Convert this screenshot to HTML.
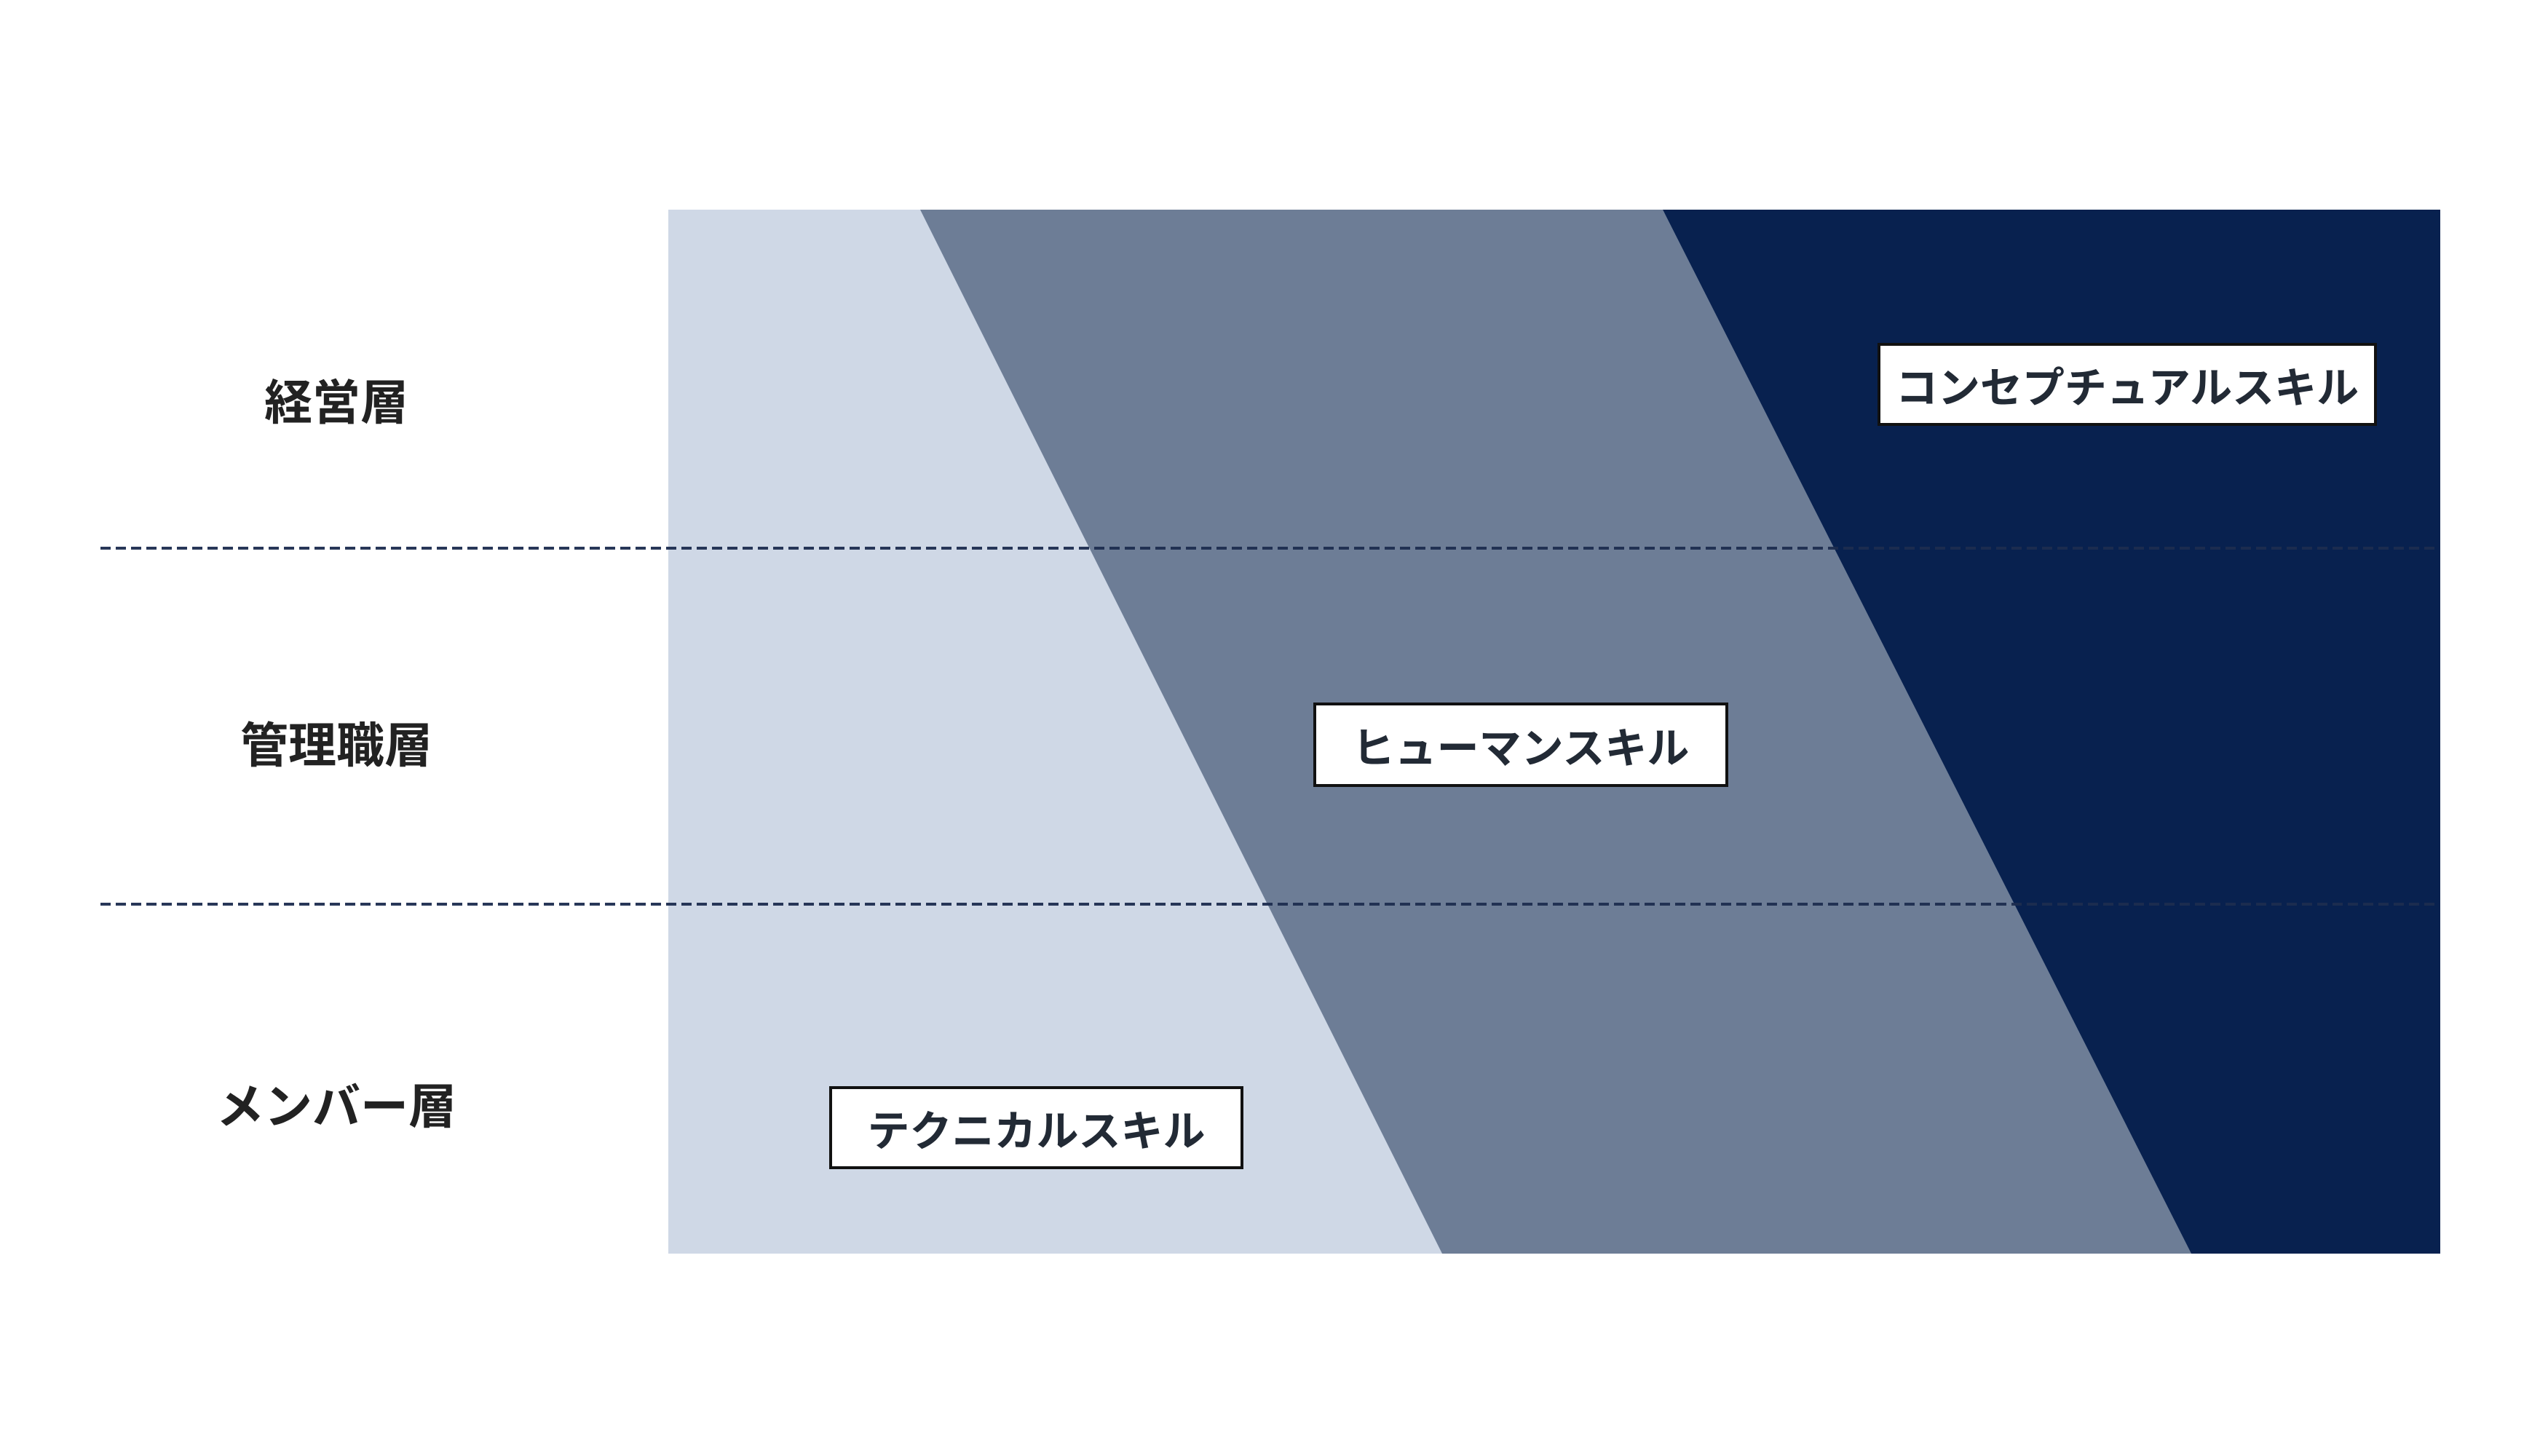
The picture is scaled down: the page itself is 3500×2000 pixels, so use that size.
<!DOCTYPE html>
<html><head><meta charset="utf-8"><style>
html,body{margin:0;padding:0;background:#fff;}
body{width:3500px;height:2000px;position:relative;overflow:hidden;font-family:"Liberation Sans","Noto Sans CJK JP",sans-serif;}
.lbl{position:absolute;width:600px;left:162px;text-align:center;font-size:66px;font-weight:bold;color:#222;line-height:1;}
.box{position:absolute;background:#fff;border:4px solid #111;box-sizing:border-box;display:flex;align-items:center;justify-content:center;font-size:58px;font-weight:bold;color:#222a35;}
</style></head><body>
<svg width="3500" height="2000" style="position:absolute;left:0;top:0">
<rect x="918" y="288" width="2434" height="1434" fill="#cfd8e6"/>
<polygon points="1264,288 2284,288 3010,1722 1981,1722" fill="#6d7d96"/>
<polygon points="2284,288 3352,288 3352,1722 3010,1722" fill="#08214f"/>
<line x1="138" y1="753" x2="3350" y2="753" stroke="#1d2d50" stroke-width="4" stroke-dasharray="14,7" opacity="0.95"/>
<line x1="138" y1="1242" x2="3350" y2="1242" stroke="#1d2d50" stroke-width="4" stroke-dasharray="14,7" opacity="0.95"/>
</svg>
<div class="lbl" style="top:520px">経営層</div>
<div class="lbl" style="top:991px">管理職層</div>
<div class="lbl" style="top:1487px">メンバー層</div>
<div class="box" style="left:2579px;top:471px;width:686px;height:114px">コンセプチュアルスキル</div>
<div class="box" style="left:1804px;top:965px;width:570px;height:116px">ヒューマンスキル</div>
<div class="box" style="left:1139px;top:1492px;width:569px;height:114px">テクニカルスキル</div>
</body></html>
